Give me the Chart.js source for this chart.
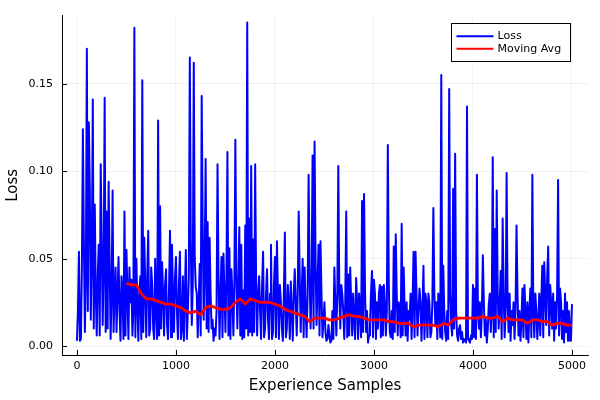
<!DOCTYPE html>
<html>
<head>
<meta charset="utf-8">
<script src="https://cdn.jsdelivr.net/npm/chart.js@4.4.1/dist/chart.umd.min.js"></script>
<style>
html,body{margin:0;padding:0;background:#fff;}
canvas{display:block;}
</style>
</head>
<body>
<canvas id="c" width="600" height="400"></canvas>
<script>
// ---- data ----
const sampleStep = 20; // lossValues read at samples 0,20,40,...; lossMid at 10,30,50,...
const lossValues = [
0.003,0.054,0.004,0.124,0.008,0.170,0.128,0.015,0.141,0.081,
0.006,0.058,0.104,0.012,0.142,0.077,0.094,0.004,0.089,0.030,
0.008,0.051,0.003,0.030,0.077,0.055,0.004,0.025,0.006,0.182,
0.050,0.003,0.040,0.152,0.062,0.005,0.066,0.010,0.035,0.004,
0.020,0.129,0.080,0.048,0.006,0.044,0.004,0.066,0.058,0.008,
0.051,0.004,0.054,0.010,0.003,0.055,0.020,0.165,0.012,0.162,
0.034,0.005,0.047,0.143,0.015,0.107,0.071,0.062,0.010,0.003,
0.006,0.104,0.004,0.051,0.053,0.008,0.111,0.056,0.044,0.006,
0.118,0.010,0.068,0.058,0.032,0.069,0.185,0.073,0.103,0.061,
0.104,0.006,0.040,0.004,0.054,0.010,0.044,0.004,0.058,0.008,
0.051,0.060,0.004,0.025,0.003,0.065,0.010,0.025,0.037,0.003,
0.044,0.006,0.077,0.008,0.050,0.045,0.005,0.098,0.010,0.109,
0.117,0.012,0.058,0.060,0.005,0.025,0.003,0.012,0.002,0.020,
0.045,0.006,0.103,0.010,0.030,0.004,0.077,0.041,0.045,0.006,
0.015,0.039,0.004,0.020,0.083,0.087,0.008,0.002,0.012,0.043,
0.038,0.004,0.010,0.035,0.034,0.035,0.006,0.115,0.008,0.020,
0.057,0.064,0.006,0.020,0.070,0.045,0.006,0.003,0.015,0.004,
0.054,0.054,0.006,0.033,0.003,0.046,0.030,0.005,0.025,0.008,
0.079,0.012,0.004,0.020,0.155,0.046,0.008,0.020,0.147,0.012,
0.090,0.110,0.006,0.010,0.004,0.002,0.003,0.137,0.003,0.006,
0.035,0.033,0.098,0.010,0.005,0.052,0.006,0.002,0.024,0.008,
0.108,0.067,0.089,0.010,0.043,0.073,0.005,0.099,0.008,0.003,
0.012,0.004,0.069,0.006,0.003,0.033,0.035,0.004,0.002,0.033,
0.098,0.005,0.020,0.015,0.006,0.046,0.048,0.012,0.057,0.035,
0.010,0.003,0.010,0.095,0.033,0.004,0.002,0.008,0.003,0.006,
0.024
];
const lossMid = [
0.020,0.003,0.045,0.060,0.040,0.020,0.090,0.050,0.010,0.030,
0.040,0.006,0.060,0.045,0.008,0.010,0.050,0.030,0.008,0.045,
0.030,0.020,0.040,0.004,0.006,0.030,0.045,0.038,0.020,0.005,
0.025,0.030,0.004,0.008,0.035,0.040,0.006,0.045,0.010,0.050,
0.004,0.006,0.010,0.030,0.035,0.012,0.032,0.005,0.030,0.038,
0.020,0.035,0.004,0.040,0.030,0.004,0.040,0.060,0.035,0.050,
0.030,0.025,0.006,0.070,0.045,0.010,0.008,0.030,0.015,0.010,
0.020,0.040,0.030,0.005,0.030,0.040,0.006,0.004,0.030,0.035,
0.040,0.035,0.006,0.004,0.005,0.010,0.006,0.008,0.006,0.008,
0.035,0.030,0.020,0.035,0.005,0.030,0.015,0.030,0.004,0.035,
0.005,0.030,0.035,0.010,0.030,0.005,0.035,0.004,0.020,0.030,
0.025,0.030,0.040,0.030,0.005,0.020,0.030,0.040,0.035,0.010,
0.050,0.035,0.006,0.030,0.015,0.008,0.004,0.006,0.003,0.004,
0.025,0.030,0.030,0.035,0.020,0.025,0.005,0.006,0.025,0.030,
0.004,0.025,0.030,0.005,0.008,0.030,0.020,0.006,0.030,0.005,
0.030,0.025,0.030,0.005,0.006,0.025,0.020,0.035,0.005,0.004,
0.008,0.030,0.025,0.005,0.006,0.020,0.025,0.020,0.030,0.025,
0.005,0.030,0.020,0.025,0.020,0.004,0.025,0.030,0.005,0.025,
0.030,0.025,0.030,0.005,0.004,0.020,0.003,0.004,0.030,0.006,
0.010,0.020,0.003,0.012,0.008,0.004,0.002,0.004,0.002,0.004,
0.005,0.004,0.020,0.025,0.020,0.025,0.015,0.010,0.030,0.020,
0.005,0.008,0.030,0.025,0.004,0.030,0.020,0.025,0.030,0.020,
0.025,0.020,0.030,0.020,0.015,0.005,0.020,0.025,0.020,0.005,
0.020,0.030,0.004,0.030,0.025,0.005,0.030,0.040,0.006,0.025,
0.030,0.025,0.030,0.006,0.025,0.020,0.030,0.025,0.020,0.003
];
const maSamples = [
500,550,600,650,700,750,800,850,900,950,
1000,1050,1100,1150,1200,1250,1300,1350,1400,1450,
1500,1550,1600,1650,1700,1750,1800,1850,1900,1950,
2000,2050,2100,2150,2200,2250,2300,2350,2400,2450,
2500,2550,2600,2650,2700,2750,2800,2850,2900,2950,
3000,3050,3100,3150,3200,3250,3300,3350,3400,3450,
3500,3550,3600,3650,3700,3750,3800,3850,3900,3950,
4000,4050,4100,4150,4200,4250,4300,4350,4400,4450,
4500,4550,4600,4650,4700,4750,4800,4850,4900,4950,5000
];
const maValues = [
0.036,0.035,0.035,0.030,0.027,0.027,0.026,0.025,0.024,0.024,
0.023,0.022,0.020,0.019,0.020,0.018,0.022,0.023,0.022,0.021,
0.021,0.022,0.025,0.027,0.024,0.027,0.026,0.025,0.025,0.025,
0.024,0.023,0.021,0.020,0.019,0.018,0.017,0.014,0.016,0.016,
0.016,0.015,0.015,0.016,0.017,0.018,0.017,0.017,0.016,0.015,
0.015,0.015,0.015,0.014,0.014,0.013,0.013,0.013,0.011,0.012,
0.012,0.012,0.012,0.011,0.013,0.012,0.015,0.016,0.016,0.016,
0.016,0.016,0.017,0.016,0.016,0.017,0.014,0.016,0.015,0.015,
0.015,0.013,0.015,0.015,0.014,0.014,0.012,0.013,0.013,0.012,0.012
];
const xTickValues = [0,1000,2000,3000,4000,5000];
const yTickValues = [0,0.05,0.10,0.15];
const seriesNames = ["Loss","Moving Avg"];
const seriesColors = ["#0000ff","#ff0000"];

// ---- build ----
const lossData = [];
lossValues.forEach((v,i)=>{
  lossData.push({x:i*sampleStep,y:v});
  if(i<lossMid.length) lossData.push({x:i*sampleStep+sampleStep/2,y:lossMid[i]});
});
const maData = maValues.map((v,i)=>({x:maSamples[i],y:v}));

Chart.defaults.font.family = "'DejaVu Sans', sans-serif";
Chart.defaults.color = "#000";

const extrasPlugin = {
  id:'extras',
  afterDraw(chart){
    const ctx = chart.ctx;
    const xs = chart.scales.x, ys = chart.scales.y, a = chart.chartArea;
    ctx.save();
    ctx.strokeStyle = '#000';
    ctx.lineWidth = 1;
    ctx.beginPath();
    xTickValues.forEach(v=>{const p=Math.round(xs.getPixelForValue(v))+0.5; ctx.moveTo(p,a.bottom); ctx.lineTo(p,a.bottom-5);});
    yTickValues.forEach(v=>{const p=Math.round(ys.getPixelForValue(v))+0.5; ctx.moveTo(a.left,p); ctx.lineTo(a.left+5,p);});
    ctx.stroke();
    // legend
    const bx=451.5, by=23.5, bw=119, bh=38;
    ctx.fillStyle='#fff';
    ctx.fillRect(bx,by,bw,bh);
    ctx.strokeStyle='#000';
    ctx.lineWidth=1;
    ctx.strokeRect(bx,by,bw,bh);
    ctx.font = "11px 'DejaVu Sans', sans-serif";
    ctx.textBaseline='middle';
    ctx.textAlign='left';
    const rows=[36.3,48.7];
    seriesNames.forEach((n,i)=>{
      ctx.strokeStyle=seriesColors[i];
      ctx.lineWidth=2;
      ctx.beginPath(); ctx.moveTo(456.5,rows[i]); ctx.lineTo(493.5,rows[i]); ctx.stroke();
      ctx.fillStyle='#000';
      ctx.fillText(n,497.5,rows[i]);
    });
    ctx.restore();
  }
};

new Chart(document.getElementById('c'),{
  type:'line',
  data:{datasets:[
    {label:seriesNames[0],data:lossData,borderColor:seriesColors[0],borderWidth:2,pointRadius:0,tension:0,borderJoinStyle:'round',order:2},
    {label:seriesNames[1],data:maData,borderColor:seriesColors[1],borderWidth:2.8,pointRadius:0,tension:0,borderJoinStyle:'round',order:1}
  ]},
  options:{
    responsive:false,
    animation:false,
    devicePixelRatio:1,
    parsing:false,
    layout:{padding:{top:12,right:12,left:0,bottom:0}},
    plugins:{legend:{display:false},tooltip:{enabled:false}},
    scales:{
      x:{
        type:'linear',min:-151,max:5162,
        afterBuildTicks(s){s.ticks=xTickValues.map(v=>({value:v}));},
        afterFit(s){s.height=45;},
        ticks:{padding:5,font:{size:11},maxRotation:0,callback:v=>String(v)},
        grid:{color:'rgba(0,0,0,0.1)',lineWidth:0.5,drawTicks:false},
        border:{color:'#000',width:1},
        title:{display:true,text:'Experience Samples',font:{size:15},padding:{top:6,bottom:5}}
      },
      y:{
        type:'linear',min:-0.0051,max:0.189,
        afterBuildTicks(s){s.ticks=yTickValues.map(v=>({value:v}));},
        afterFit(s){s.width=62;},
        ticks:{padding:9,font:{size:11},callback:v=>Number(v).toFixed(2)},
        grid:{color:'rgba(0,0,0,0.1)',lineWidth:0.5,drawTicks:false},
        border:{color:'#000',width:1},
        title:{display:true,text:'Loss',font:{size:15},padding:{top:4,bottom:3}}
      }
    }
  },
  plugins:[extrasPlugin]
});
</script>
</body>
</html>
